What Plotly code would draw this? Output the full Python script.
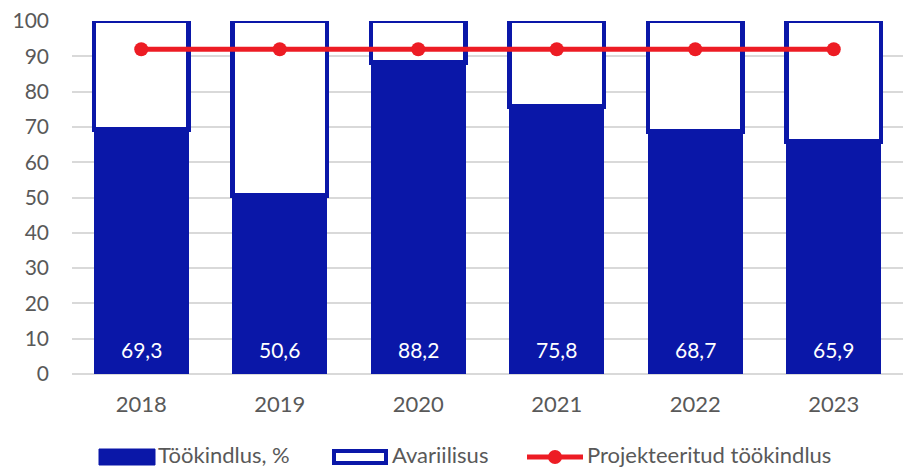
import plotly.graph_objects as go

years = ["2018", "2019", "2020", "2021", "2022", "2023"]
reliability = [69.3, 50.6, 88.2, 75.8, 68.7, 65.9]
failure = [round(100 - v, 1) for v in reliability]
projected = [92, 92, 92, 92, 92, 92]

names = ["Töökindlus, %", "Avariilisus", "Projekteeritud töökindlus"]

BLUE = "#0A17A8"
RED = "#ED1C24"
GREY = "#595959"
FONT = "Lato"

W, H = 903, 468
ML, MR, MT, MB = 72, 0, 21, 94
PW, PH = W - ML - MR, H - MT - MB


def px(x):
    return (x - ML) / PW


def py(y):
    return (H - MB - y) / PH


fig = go.Figure()

fig.add_trace(go.Bar(
    x=years, y=reliability, name=names[0],
    marker=dict(color=BLUE, line=dict(color=BLUE, width=1)),
    width=0.68, showlegend=False,
))
fig.add_trace(go.Bar(
    x=years, y=failure, name=names[1],
    marker=dict(color="white", line=dict(color=BLUE, width=4.5)),
    width=0.68, showlegend=False,
))
fig.add_trace(go.Scatter(
    x=years, y=projected, name=names[2],
    mode="lines+markers",
    line=dict(color=RED, width=5),
    marker=dict(color=RED, size=14),
    showlegend=False,
))

# Value labels near the base of each bar
annotations = [
    dict(text=f"{v:.1f}".replace(".", ","), x=i, y=7, xref="x", yref="y",
         showarrow=False, yanchor="middle",
         font=dict(size=21, color="white", family=FONT))
    for i, v in enumerate(reliability)
]

# Legend drawn below the plot
shapes = [
    dict(type="rect", xref="paper", yref="paper",
         x0=px(99), x1=px(155), y0=py(465), y1=py(449),
         fillcolor=BLUE, line=dict(color=BLUE, width=1)),
    dict(type="rect", xref="paper", yref="paper",
         x0=px(334), x1=px(386), y0=py(463), y1=py(451),
         fillcolor="white", line=dict(color=BLUE, width=4)),
    dict(type="line", xref="paper", yref="paper",
         x0=px(527), x1=px(583), y0=py(457), y1=py(457),
         line=dict(color=RED, width=5)),
    dict(type="circle", xref="paper", yref="paper",
         x0=px(548), x1=px(562), y0=py(464), y1=py(450),
         fillcolor=RED, line=dict(color=RED, width=0)),
]
annotations += [
    dict(text=t, xref="paper", yref="paper", x=px(xx), y=py(454),
         xanchor="left", yanchor="middle", showarrow=False,
         font=dict(size=22, color=GREY, family=FONT))
    for t, xx in zip(names, [156, 390, 585])
]

fig.update_layout(
    width=W, height=H,
    barmode="stack",
    plot_bgcolor="white", paper_bgcolor="white",
    margin=dict(l=ML, r=MR, t=MT, b=MB),
    font=dict(family=FONT, size=21, color=GREY),
    showlegend=False,
    hovermode=False,
    shapes=shapes,
    annotations=annotations,
)
fig.update_xaxes(type="category", showgrid=False, showline=False, ticks="",
                 tickfont=dict(size=22, color=GREY), ticklabelstandoff=15)
fig.update_yaxes(range=[0, 100], dtick=10, showgrid=True, gridcolor="#D9D9D9", gridwidth=1.5,
                 zeroline=True, zerolinecolor="#D9D9D9", zerolinewidth=1.5,
                 tickfont=dict(size=21, color=GREY), ticklabelstandoff=22)

fig.write_html("out.html")
